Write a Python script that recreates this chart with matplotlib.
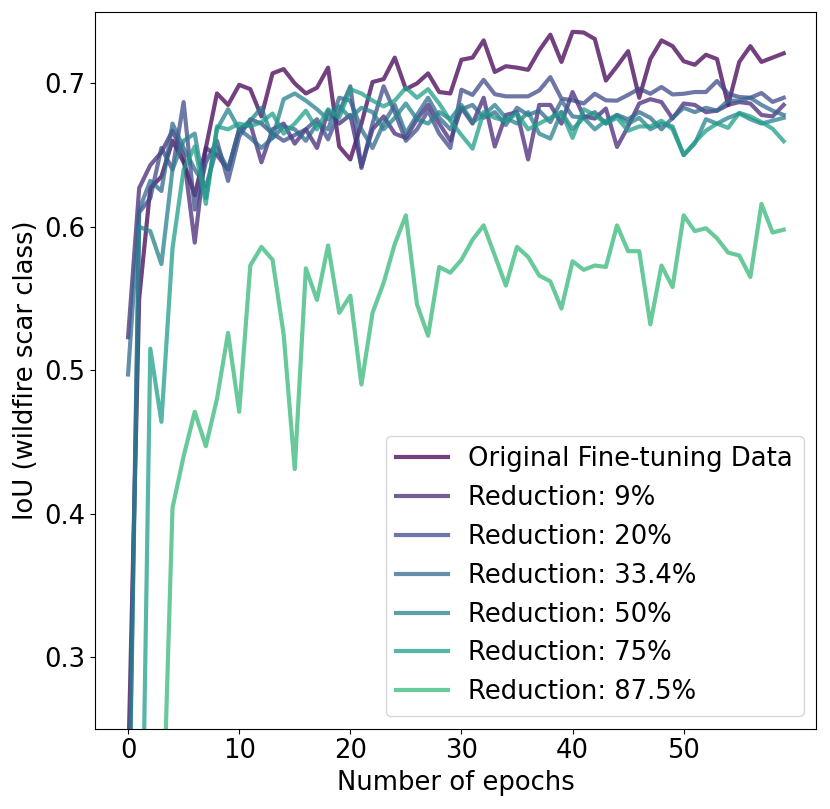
import numpy as np
import matplotlib
matplotlib.use("Agg")
import matplotlib.pyplot as plt

epochs = np.arange(60)

labels = [
    "Original Fine-tuning Data",
    "Reduction: 9%",
    "Reduction: 20%",
    "Reduction: 33.4%",
    "Reduction: 50%",
    "Reduction: 75%",
    "Reduction: 87.5%",
]

iou_original = [
    0.220, 0.550, 0.627, 0.635, 0.660, 0.645, 0.622, 0.655, 0.693, 0.685,
    0.699, 0.696, 0.677, 0.707, 0.710, 0.700, 0.693, 0.697, 0.711, 0.656,
    0.647, 0.672, 0.701, 0.703, 0.718, 0.696, 0.700, 0.707, 0.694, 0.693,
    0.7165, 0.718, 0.730, 0.708, 0.712, 0.711, 0.7095, 0.723, 0.734, 0.715,
    0.736, 0.7355, 0.731, 0.702, 0.712, 0.7225, 0.690, 0.717, 0.730, 0.726,
    0.7155, 0.713, 0.720, 0.717, 0.685, 0.715, 0.726, 0.715, 0.718, 0.721,
]
iou_red9 = [
    0.523, 0.627, 0.643, 0.652, 0.667, 0.650, 0.589, 0.655, 0.650, 0.640,
    0.668, 0.672, 0.645, 0.668, 0.672, 0.658, 0.668, 0.655, 0.681, 0.672,
    0.678, 0.642, 0.668, 0.677, 0.665, 0.662, 0.675, 0.685, 0.672, 0.660,
    0.683, 0.672, 0.690, 0.656, 0.678, 0.680, 0.647, 0.685, 0.685, 0.672,
    0.694, 0.677, 0.6755, 0.6825, 0.6557, 0.670, 0.686, 0.689, 0.687, 0.6755,
    0.686, 0.685, 0.680, 0.681, 0.685, 0.687, 0.686, 0.678, 0.677, 0.685,
]
iou_red20 = [
    0.150, 0.610, 0.620, 0.655, 0.640, 0.687, 0.612, 0.645, 0.660, 0.632,
    0.663, 0.675, 0.672, 0.665, 0.660, 0.664, 0.668, 0.675, 0.661, 0.680,
    0.698, 0.641, 0.672, 0.698, 0.680, 0.660, 0.668, 0.681, 0.665, 0.655,
    0.6956, 0.692, 0.7025, 0.6925, 0.691, 0.691, 0.691, 0.6951, 0.7044, 0.6894,
    0.6882, 0.686, 0.6928, 0.6882, 0.688, 0.692, 0.6963, 0.6928, 0.6975, 0.6923,
    0.6928, 0.694, 0.694, 0.7017, 0.6928, 0.6905, 0.690, 0.6933, 0.6871, 0.690,
]
iou_red33 = [
    0.497, 0.612, 0.632, 0.625, 0.672, 0.655, 0.640, 0.628, 0.655, 0.640,
    0.668, 0.662, 0.655, 0.662, 0.670, 0.668, 0.660, 0.672, 0.668, 0.690,
    0.688, 0.668, 0.655, 0.672, 0.685, 0.665, 0.678, 0.690, 0.676, 0.668,
    0.682, 0.685, 0.676, 0.680, 0.671, 0.683, 0.678, 0.681, 0.673, 0.688,
    0.677, 0.676, 0.680, 0.672, 0.678, 0.675, 0.680, 0.676, 0.668, 0.676,
    0.683, 0.680, 0.683, 0.681, 0.688, 0.688, 0.690, 0.685, 0.681, 0.678,
]
iou_red50 = [
    0.140, 0.600, 0.597, 0.574, 0.640, 0.660, 0.665, 0.620, 0.668, 0.682,
    0.668, 0.674, 0.683, 0.662, 0.689, 0.693, 0.688, 0.682, 0.675, 0.684,
    0.676, 0.683, 0.680, 0.668, 0.676, 0.686, 0.675, 0.672, 0.680, 0.675,
    0.685, 0.673, 0.678, 0.685, 0.676, 0.672, 0.680, 0.665, 0.6615, 0.680,
    0.668, 0.676, 0.668, 0.674, 0.678, 0.672, 0.676, 0.668, 0.672, 0.670,
    0.650, 0.658, 0.675, 0.672, 0.676, 0.679, 0.675, 0.672, 0.674, 0.676,
]
iou_red75 = [
    0.020, 0.030, 0.515, 0.464, 0.585, 0.640, 0.656, 0.616, 0.670, 0.668,
    0.672, 0.670, 0.673, 0.679, 0.665, 0.672, 0.681, 0.668, 0.682, 0.676,
    0.696, 0.693, 0.688, 0.684, 0.688, 0.697, 0.690, 0.696, 0.686, 0.674,
    0.664, 0.6545, 0.680, 0.676, 0.674, 0.679, 0.668, 0.672, 0.676, 0.680,
    0.662, 0.682, 0.678, 0.672, 0.676, 0.667, 0.670, 0.670, 0.674, 0.668,
    0.650, 0.659, 0.667, 0.672, 0.669, 0.6795, 0.677, 0.673, 0.6684, 0.6597,
]
iou_red87 = [
    0.100, 0.100, 0.120, 0.147, 0.404, 0.440, 0.471, 0.447, 0.480, 0.526,
    0.471, 0.573, 0.586, 0.577, 0.525, 0.431, 0.571, 0.549, 0.587, 0.540,
    0.552, 0.490, 0.540, 0.561, 0.588, 0.608, 0.546, 0.524, 0.572, 0.568,
    0.577, 0.591, 0.601, 0.580, 0.559, 0.586, 0.579, 0.566, 0.562, 0.543,
    0.576, 0.570, 0.573, 0.572, 0.601, 0.583, 0.583, 0.532, 0.573, 0.558,
    0.608, 0.597, 0.599, 0.592, 0.582, 0.580, 0.565, 0.616, 0.596, 0.598,
]

series = [iou_original, iou_red9, iou_red20, iou_red33,
          iou_red50, iou_red75, iou_red87]

# first 7 of a 10-step viridis, drawn semi transparent
colors = plt.cm.viridis(np.linspace(0, 1, 10))[:len(series)]

fs = 18.6

fig = plt.figure(figsize=(8.3, 8.09), dpi=100)
ax = fig.add_subplot(111)
fig.subplots_adjust(left=0.1148, right=0.9837, top=0.9855, bottom=0.0993)

for vals, lab, col in zip(series, labels, colors):
    ax.plot(epochs, vals, color=col, lw=3, alpha=0.75, label=lab)

ax.set_ylim(0.25, 0.75)
ax.set_xticks(np.arange(0, 60, 10))
ax.set_xlabel("Number of epochs", fontsize=fs)
ax.set_ylabel("IoU (wildfire scar class)", fontsize=fs)
ax.tick_params(labelsize=fs)
ax.legend(loc="lower right", fontsize=fs)

fig.savefig("out.png", dpi=100)
